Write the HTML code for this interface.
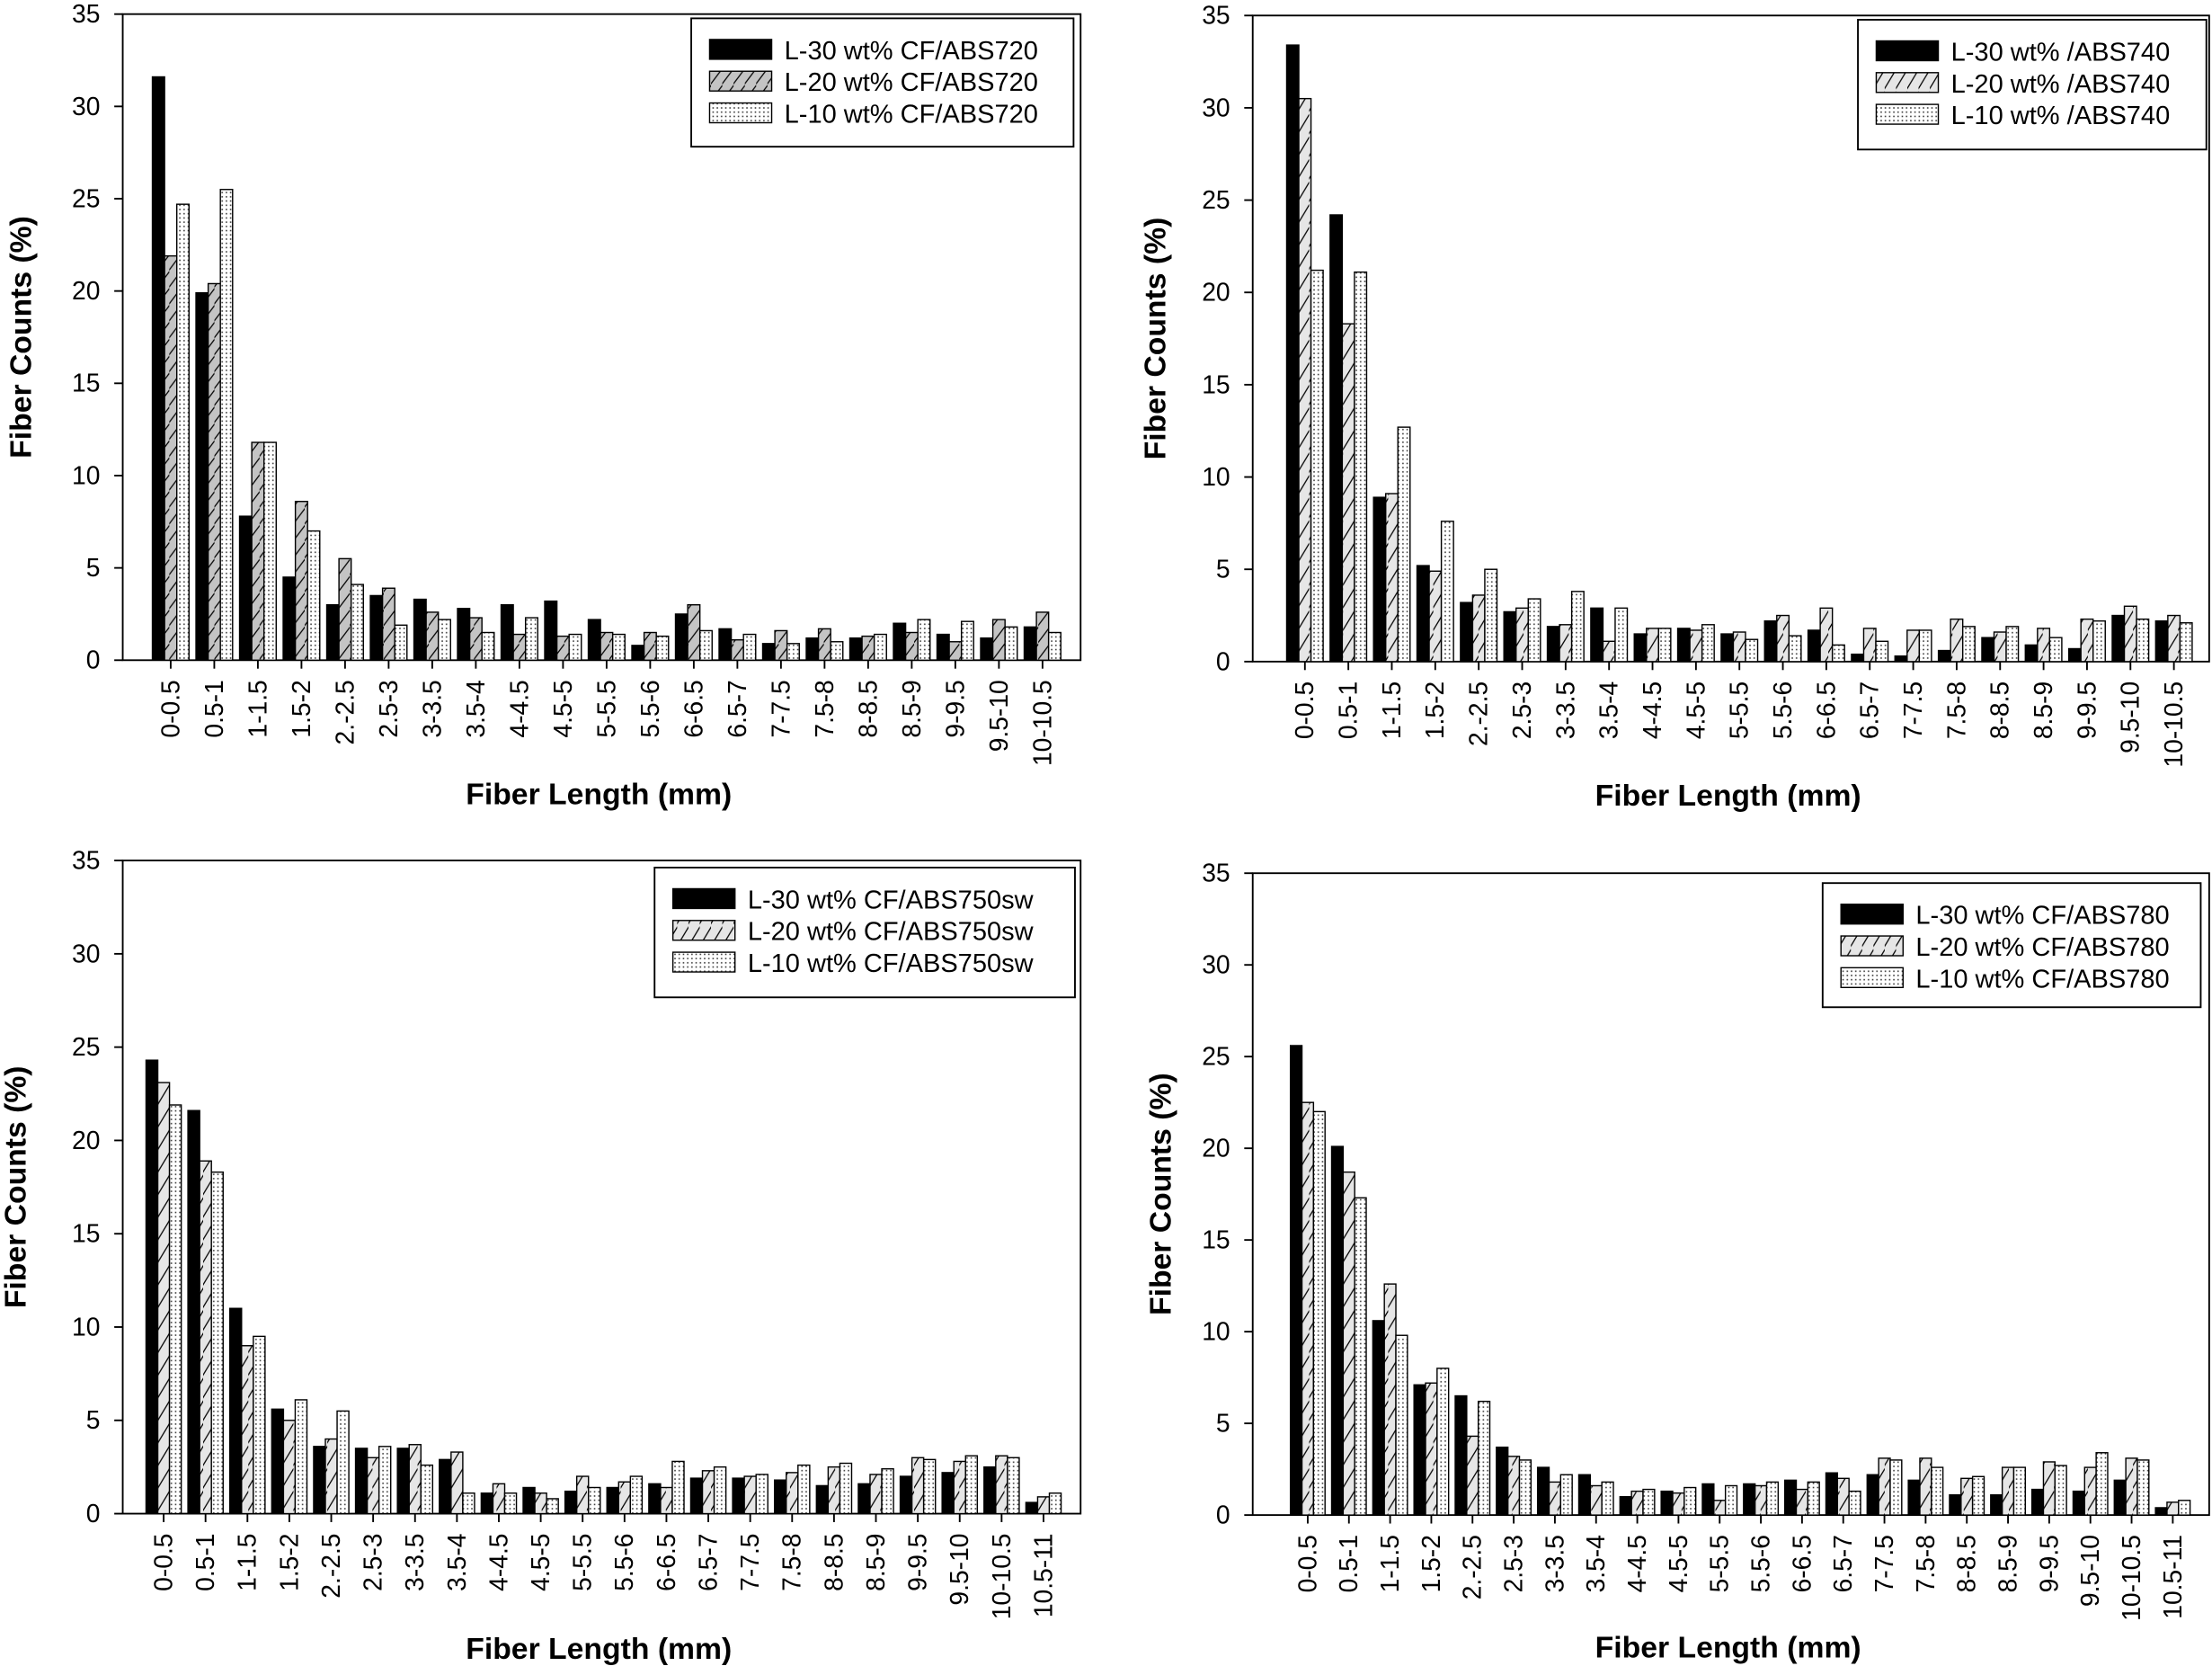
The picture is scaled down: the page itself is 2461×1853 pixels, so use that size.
<!DOCTYPE html>
<html><head><meta charset="utf-8"><style>
html,body{margin:0;padding:0;background:#fff;}
svg{display:block;font-family:"Liberation Sans",Arial,sans-serif;}
</style></head><body>
<svg id="fig" width="2461" height="1853" viewBox="0 0 1568 1181" preserveAspectRatio="none" xmlns="http://www.w3.org/2000/svg">
<defs>
<pattern id="hatchDark" patternUnits="userSpaceOnUse" width="8" height="12"><rect width="8" height="12" fill="#c4c4c4"/><path d="M-2,14 L10,-2" stroke="#000" stroke-width="0.8"/></pattern>
<pattern id="hatchLight" patternUnits="userSpaceOnUse" width="8" height="16"><rect width="8" height="16" fill="#e6e6e6"/><path d="M-2,18 L10,-2" stroke="#000" stroke-width="0.8"/></pattern>
<pattern id="dots" patternUnits="userSpaceOnUse" width="3" height="3"><rect width="3" height="3" fill="#fff"/><rect x="1" y="1" width="1" height="1" fill="#333"/></pattern>
</defs>
</svg>
<script>
const cats21 = ["0-0.5","0.5-1","1-1.5","1.5-2","2.-2.5","2.5-3","3-3.5","3.5-4","4-4.5","4.5-5","5-5.5","5.5-6","6-6.5","6.5-7","7-7.5","7.5-8","8-8.5","8.5-9","9-9.5","9.5-10","10-10.5"];
const cats22 = cats21.concat(["10.5-11"]);
const yTicks = [0,5,10,15,20,25,30,35];

const a30 = [31.6,19.9,7.8,4.5,3.0,3.5,3.3,2.8,3.0,3.2,2.2,0.8,2.5,1.7,0.9,1.2,1.2,2.0,1.4,1.2,1.8];
const a20 = [21.9,20.4,11.8,8.6,5.5,3.9,2.6,2.3,1.4,1.3,1.5,1.5,3.0,1.1,1.6,1.7,1.3,1.5,1.0,2.2,2.6];
const a10 = [24.7,25.5,11.8,7.0,4.1,1.9,2.2,1.5,2.3,1.4,1.4,1.3,1.6,1.4,0.9,1.0,1.4,2.2,2.1,1.8,1.5];

const b30 = [33.4,24.2,8.9,5.2,3.2,2.7,1.9,2.9,1.5,1.8,1.5,2.2,1.7,0.4,0.3,0.6,1.3,0.9,0.7,2.5,2.2];
const b20 = [30.5,18.3,9.1,4.9,3.6,2.9,2.0,1.1,1.8,1.7,1.6,2.5,2.9,1.8,1.7,2.3,1.6,1.8,2.3,3.0,2.5];
const b10 = [21.2,21.1,12.7,7.6,5.0,3.4,3.8,2.9,1.8,2.0,1.2,1.4,0.9,1.1,1.7,1.9,1.9,1.3,2.2,2.3,2.1];

const c30 = [24.3,21.6,11.0,5.6,3.6,3.5,3.5,2.9,1.1,1.4,1.2,1.4,1.6,1.9,1.9,1.8,1.5,1.6,2.0,2.2,2.5,0.6];
const c20 = [23.1,18.9,9.0,5.0,4.0,3.0,3.7,3.3,1.6,1.1,2.0,1.7,1.4,2.3,2.0,2.2,2.5,2.1,3.0,2.8,3.1,0.9];
const c10 = [21.9,18.3,9.5,6.1,5.5,3.6,2.6,1.1,1.1,0.8,1.4,2.0,2.8,2.5,2.1,2.6,2.7,2.4,2.9,3.1,3.0,1.1];

const d30 = [25.6,20.1,10.6,7.1,6.5,3.7,2.6,2.2,1.0,1.3,1.7,1.7,1.9,2.3,2.2,1.9,1.1,1.1,1.4,1.3,1.9,0.4];
const d20 = [22.5,18.7,12.6,7.2,4.3,3.2,1.8,1.6,1.3,1.2,0.8,1.6,1.4,2.0,3.1,3.1,2.0,2.6,2.9,2.6,3.1,0.7];
const d10 = [22.0,17.3,9.8,8.0,6.2,3.0,2.2,1.8,1.4,1.5,1.6,1.8,1.8,1.3,3.0,2.6,2.1,2.6,2.7,3.4,3.0,0.8];

const labelsA = ["L-30 wt% CF/ABS720","L-20 wt% CF/ABS720","L-10 wt% CF/ABS720"];
const labelsB = ["L-30 wt% /ABS740","L-20 wt% /ABS740","L-10 wt% /ABS740"];
const labelsC = ["L-30 wt% CF/ABS750sw","L-20 wt% CF/ABS750sw","L-10 wt% CF/ABS750sw"];
const labelsD = ["L-30 wt% CF/ABS780","L-20 wt% CF/ABS780","L-10 wt% CF/ABS780"];

const NS="http://www.w3.org/2000/svg";
const svg=document.getElementById('fig');
function mk(tag,attrs,parent){const e=document.createElementNS(NS,tag);for(const k in attrs)e.setAttribute(k,attrs[k]);parent.appendChild(e);return e;}

function chart(cfg){
  const g=mk('g',{},svg);
  
  
  const {L,T,R,B,x0,dx,cats,series,fills,labels,leg}=cfg;
  const y=v=>B-(v/35)*(B-T);
  const xc=i=>x0+i*dx;
  const fr=mk('rect',{x:L,y:T,width:R-L,height:B-T,fill:'none',stroke:'#000','stroke-width':1.2},g);
  
  
  yTicks.forEach(t=>{
    mk('line',{x1:L-6,x2:L,y1:y(t),y2:y(t),stroke:'#000','stroke-width':1.2},g);
    const tx=mk('text',{x:L-16,y:y(t)+6,'text-anchor':'end','font-size':18,fill:'#000'},g);
    tx.textContent=t;
    
    
  });
  const bw=dx*0.28;
  cats.forEach((c,i)=>{
    series.forEach((s,k)=>{
      const v=s[i];
      const r=mk('rect',{x:xc(i)-1.5*bw+k*bw,y:y(v),width:bw,height:B-y(v),fill:fills[k],stroke:'#000','stroke-width':0.9},g);
      
      
    });
    mk('line',{x1:xc(i),x2:xc(i),y1:B,y2:B+6,stroke:'#000','stroke-width':1.2},g);
    const tx=mk('text',{x:0,y:0,'text-anchor':'end','font-size':18,fill:'#000',transform:`translate(${xc(i)+6},${B+14}) rotate(-90)`},g);
    tx.textContent=c;
    
    
  });
  const xt=mk('text',{x:(L+R)/2-2,y:cfg.xtY,'text-anchor':'middle','font-size':21.5,'font-weight':'bold'},g);
  xt.textContent='Fiber Length (mm)';
  
  
  const yt=mk('text',{x:0,y:0,'text-anchor':'middle','font-size':21.5,'font-weight':'bold',transform:`translate(${cfg.ytX},${(T+B)/2}) rotate(-90)`},g);
  yt.textContent='Fiber Counts (%)';
  
  
  const lg=mk('g',{},g);
  
  
  mk('rect',{x:leg[0],y:leg[1],width:leg[2]-leg[0],height:leg[3]-leg[1],fill:'#fff',stroke:'#000','stroke-width':1.2},lg);
  labels.forEach((lab,k)=>{
    const cy=leg[1]+22+k*22.5;
    const sw=mk('rect',{x:leg[0]+13,y:cy-7,width:44,height:14,fill:fills[k],stroke:'#000','stroke-width':0.9},lg);
    
    
    const t=mk('text',{x:leg[0]+66,y:cy+7,'font-size':18.5},lg);
    t.textContent=lab;
    
    
  });
}

chart({name:'chart-abs720',L:87,T:10,R:766,B:468,x0:121,dx:30.9,cats:cats21,series:[a30,a20,a10],fills:['#000','url(#hatchDark)','url(#dots)'],labels:labelsA,leg:[490,13,761,104],xtY:570,ytX:22});
chart({name:'chart-abs740',L:888,T:11,R:1566,B:469,x0:925,dx:30.8,cats:cats21,series:[b30,b20,b10],fills:['#000','url(#hatchLight)','url(#dots)'],labels:labelsB,leg:[1317,14,1564,106],xtY:571,ytX:826});
chart({name:'chart-abs750sw',L:87,T:610,R:766,B:1073,x0:116,dx:29.7,cats:cats22,series:[c30,c20,c10],fills:['#000','url(#hatchLight)','url(#dots)'],labels:labelsC,leg:[464,615,762,707],xtY:1176,ytX:18});
chart({name:'chart-abs780',L:888,T:619,R:1566,B:1074,x0:927,dx:29.2,cats:cats22,series:[d30,d20,d10],fills:['#000','url(#hatchLight)','url(#dots)'],labels:labelsD,leg:[1292,626,1560,714],xtY:1175,ytX:830});
</script>
</body></html>
